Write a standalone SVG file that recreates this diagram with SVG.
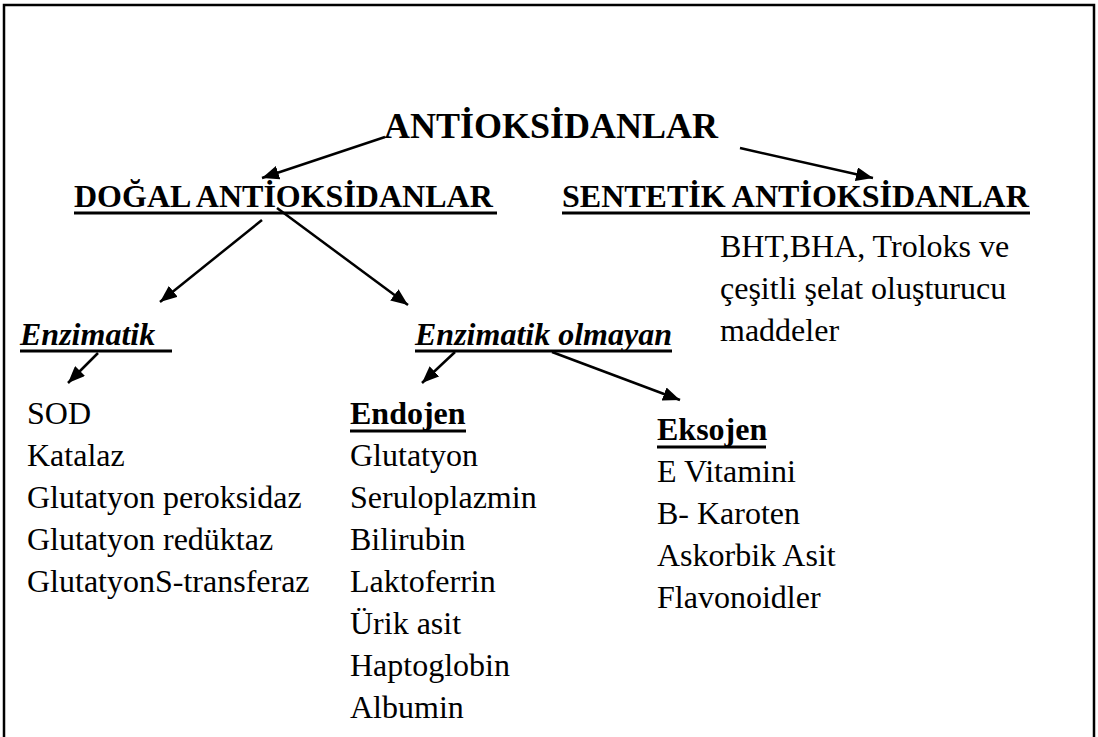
<svg xmlns="http://www.w3.org/2000/svg" width="1098" height="737" viewBox="0 0 1098 737">
<style>
text{fill:#000;font-size:32px}
.b{font-weight:bold}
.bi{font-weight:bold;font-style:italic}
.t{font-size:36px;font-weight:bold}
.u{stroke:#000;stroke-width:3}
.c{stroke:#000;stroke-width:2.5;fill:none;marker-end:url(#ah)}
</style>
<defs>
<marker id="ah" markerUnits="userSpaceOnUse" markerWidth="18" markerHeight="14" refX="17" refY="7" orient="auto">
<path d="M0,0 L17,7 L0,14 z" fill="#000"/>
</marker>
</defs>
<rect width="1098" height="737" fill="#fff"/>
<path d="M4,737 V5 H1094 V737" fill="none" stroke="#000" stroke-width="2.5"/>
<g id="connectors">
<line class="c" x1="385" y1="137" x2="262" y2="178"/>
<line class="c" x1="740" y1="148" x2="873" y2="178"/>
<line class="c" x1="262" y1="220" x2="160" y2="302"/>
<line class="c" x1="277" y1="208" x2="408" y2="305"/>
<line class="c" x1="98" y1="353" x2="68" y2="383"/>
<line class="c" x1="455" y1="352" x2="422" y2="383"/>
<line class="c" x1="552" y1="352" x2="680" y2="400"/>
</g>
<g font-family="Liberation Serif, Tinos, Times New Roman, serif">
<g id="root"><text class="t" x="384" y="138">ANTİOKSİDANLAR</text></g>
<g id="dogal"><text class="b" x="74" y="207">DOĞAL ANTİOKSİDANLAR</text><line class="u" x1="74" y1="213" x2="497" y2="213"/></g>
<g id="sentetik"><text class="b" x="562" y="207">SENTETİK ANTİOKSİDANLAR</text><line class="u" x1="562" y1="213" x2="1030" y2="213"/>
<text x="720" y="257">BHT,BHA, Troloks ve</text>
<text x="720" y="299">çeşitli şelat oluşturucu</text>
<text x="720" y="341">maddeler</text></g>
<g id="enzimatik"><text class="bi" x="20" y="345">Enzimatik</text><line class="u" x1="20" y1="351" x2="172" y2="351"/>
<text x="27" y="424">SOD</text>
<text x="27" y="466">Katalaz</text>
<text x="27" y="508">Glutatyon peroksidaz</text>
<text x="27" y="550">Glutatyon redüktaz</text>
<text x="27" y="592">GlutatyonS-transferaz</text></g>
<g id="enzimatik-olmayan"><text class="bi" x="415" y="345">Enzimatik olmayan</text><line class="u" x1="415" y1="351" x2="672" y2="351"/></g>
<g id="endojen"><text class="b" x="350" y="424">Endojen</text><line class="u" x1="350" y1="431" x2="466" y2="431"/>
<text x="350" y="466">Glutatyon</text>
<text x="350" y="508">Seruloplazmin</text>
<text x="350" y="550">Bilirubin</text>
<text x="350" y="592">Laktoferrin</text>
<text x="350" y="634">Ürik asit</text>
<text x="350" y="676">Haptoglobin</text>
<text x="350" y="718">Albumin</text></g>
<g id="eksojen"><text class="b" x="657" y="440">Eksojen</text><line class="u" x1="657" y1="447" x2="766" y2="447"/>
<text x="657" y="482">E Vitamini</text>
<text x="657" y="524">B- Karoten</text>
<text x="657" y="566">Askorbik Asit</text>
<text x="657" y="608">Flavonoidler</text></g>
</g>
</svg>
